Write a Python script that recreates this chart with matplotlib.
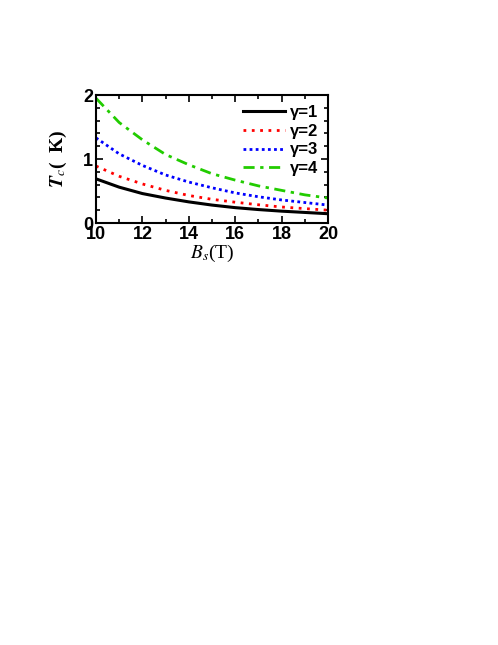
import numpy as np
import matplotlib.pyplot as plt
from matplotlib.ticker import MultipleLocator

plt.rcParams['mathtext.fontset'] = 'stix'

# Field values (T) and critical temperatures (K)
b_field = [10, 11, 12, 13, 14, 15, 16, 17, 18, 19, 20]
tc_g1 = [0.69, 0.56, 0.46, 0.39, 0.33, 0.28, 0.24, 0.21, 0.185, 0.165, 0.145]
tc_g2 = [0.89, 0.73, 0.61, 0.51, 0.43, 0.37, 0.325, 0.285, 0.25, 0.225, 0.20]
tc_g3 = [1.33, 1.08, 0.90, 0.75, 0.64, 0.55, 0.47, 0.41, 0.36, 0.32, 0.28]
tc_g4 = [1.95, 1.57, 1.30, 1.07, 0.91, 0.77, 0.67, 0.58, 0.51, 0.44, 0.39]
labels = ['γ=1', 'γ=2', 'γ=3', 'γ=4']

fig = plt.figure(figsize=(4.98, 6.45), dpi=100)
ax = fig.add_axes([96 / 498, 1 - 223 / 645, 232 / 498, 128 / 645])

ax.plot(b_field, tc_g1, color='black', lw=2.2, ls='-', label=labels[0])
ax.plot(b_field, tc_g2, color='red', lw=2.0, ls=(0, (1, 2)), label=labels[1])
ax.plot(b_field, tc_g3, color='blue', lw=2.0, ls=(0, (1, 1.2)), label=labels[2])
ax.plot(b_field, tc_g4, color='#22cc00', lw=2.0, ls=(0, (4, 2, 1.2, 2)), label=labels[3])

ax.set_xlim(10, 20)
ax.set_ylim(0, 2)
ax.xaxis.set_major_locator(MultipleLocator(2))
ax.xaxis.set_minor_locator(MultipleLocator(1))
ax.yaxis.set_major_locator(MultipleLocator(1))
ax.yaxis.set_minor_locator(MultipleLocator(0.2))
ax.tick_params(which='both', direction='in', top=True, right=True, width=1.2)
ax.tick_params(which='major', length=5, labelsize=13)
ax.tick_params(axis='x', which='major', pad=2)
ax.tick_params(axis='y', which='major', pad=2)
ax.tick_params(which='minor', length=3)
for lab in ax.get_xticklabels() + ax.get_yticklabels():
    lab.set_fontfamily('Liberation Sans')
    lab.set_fontweight('bold')
for sp in ax.spines.values():
    sp.set_linewidth(1.5)

ax.set_xlabel(r'$B_s$(T)', fontsize=14, family='Liberation Serif', labelpad=0)
ax.set_ylabel(r'$\mathbfit{T}_c$(  K)', fontsize=14, family='Liberation Serif',
              fontweight='bold', labelpad=10)

leg = ax.legend(loc='upper right', frameon=False, handlelength=2.5, handletextpad=0.3,
                labelspacing=0.22, borderaxespad=0.2,
                prop={'family': 'Liberation Sans', 'weight': 'bold', 'size': 12})

fig.savefig('out.png', dpi=100)
